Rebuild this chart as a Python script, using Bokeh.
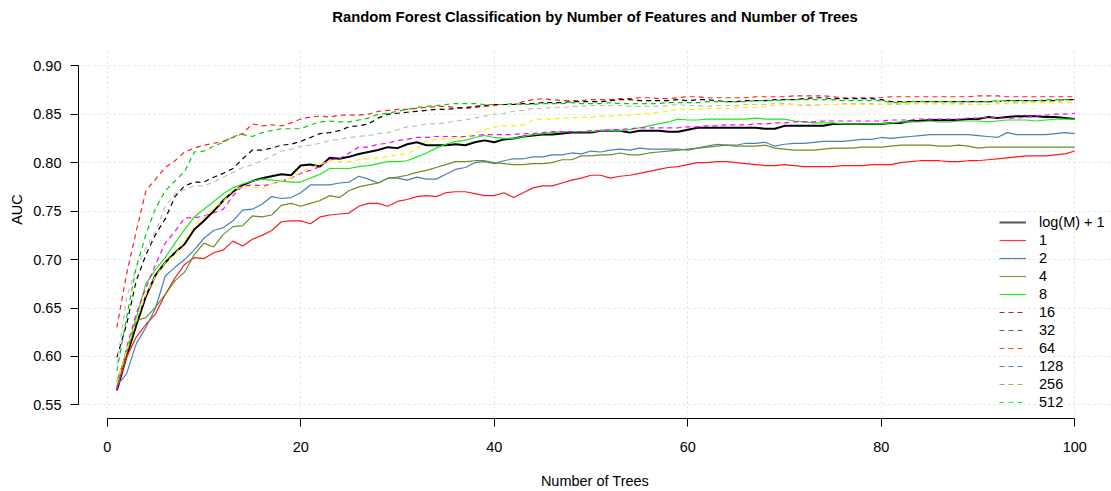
from bokeh.plotting import figure
from bokeh.models import Range1d, FixedTicker, PrintfTickFormatter, Legend, LegendItem, ColumnDataSource, Label
from bokeh.embed import file_html
from bokeh.resources import INLINE

trees = list(range(1, 101))

auc_log = [0.565,0.600,0.632,0.662,0.684,0.697,0.707,0.716,0.731,0.740,0.750,0.761,0.770,0.777,0.781,0.784,0.786,0.788,0.787,0.797,
           0.798,0.796,0.805,0.804,0.806,0.809,0.811,0.813,0.816,0.815,0.819,0.821,0.818,0.818,0.818,0.819,0.818,0.821,0.823,0.821,
           0.824,0.825,0.827,0.828,0.829,0.829,0.830,0.831,0.831,0.831,0.833,0.833,0.833,0.831,0.833,0.833,0.833,0.832,0.832,0.834,
           0.836,0.836,0.836,0.836,0.836,0.836,0.836,0.835,0.835,0.838,0.838,0.838,0.838,0.838,0.840,0.840,0.840,0.840,0.840,0.840,
           0.841,0.841,0.843,0.843,0.844,0.844,0.844,0.844,0.845,0.845,0.847,0.846,0.847,0.848,0.848,0.848,0.847,0.847,0.846,0.845]
auc_1 = [0.568,0.599,0.620,0.633,0.644,0.664,0.681,0.695,0.702,0.701,0.707,0.710,0.719,0.714,0.721,0.725,0.730,0.739,0.740,0.740,
         0.737,0.744,0.746,0.747,0.748,0.755,0.758,0.758,0.755,0.760,0.762,0.765,0.766,0.765,0.769,0.770,0.770,0.768,0.766,0.766,
         0.769,0.764,0.769,0.774,0.776,0.776,0.779,0.782,0.784,0.787,0.787,0.784,0.786,0.787,0.789,0.791,0.793,0.795,0.796,0.798,
         0.800,0.800,0.801,0.801,0.800,0.799,0.798,0.797,0.797,0.798,0.797,0.796,0.796,0.796,0.796,0.797,0.797,0.797,0.798,0.798,
         0.798,0.800,0.801,0.802,0.802,0.802,0.801,0.801,0.802,0.802,0.803,0.804,0.805,0.806,0.807,0.807,0.807,0.808,0.809,0.812]
auc_2 = [0.570,0.582,0.613,0.630,0.650,0.683,0.692,0.700,0.710,0.722,0.730,0.733,0.740,0.751,0.752,0.757,0.765,0.763,0.764,0.769,
         0.777,0.777,0.777,0.779,0.780,0.786,0.783,0.779,0.784,0.784,0.782,0.785,0.783,0.783,0.788,0.793,0.795,0.800,0.801,0.799,
         0.802,0.804,0.804,0.806,0.806,0.808,0.808,0.810,0.809,0.812,0.811,0.813,0.814,0.813,0.815,0.814,0.814,0.814,0.814,0.813,
         0.815,0.817,0.819,0.818,0.818,0.820,0.820,0.821,0.817,0.819,0.820,0.820,0.821,0.822,0.822,0.822,0.823,0.824,0.824,0.826,
         0.825,0.826,0.827,0.828,0.829,0.829,0.829,0.829,0.829,0.828,0.827,0.826,0.831,0.829,0.829,0.829,0.829,0.830,0.831,0.830]
auc_4 = [0.575,0.603,0.637,0.640,0.651,0.664,0.678,0.687,0.705,0.717,0.713,0.726,0.734,0.735,0.745,0.744,0.746,0.756,0.758,0.755,
         0.758,0.761,0.766,0.764,0.771,0.775,0.777,0.779,0.784,0.785,0.787,0.790,0.792,0.795,0.798,0.801,0.801,0.802,0.802,0.800,
         0.799,0.798,0.798,0.799,0.799,0.800,0.803,0.803,0.807,0.807,0.808,0.808,0.810,0.808,0.808,0.810,0.811,0.812,0.813,0.814,
         0.815,0.816,0.817,0.818,0.817,0.817,0.817,0.818,0.815,0.814,0.813,0.813,0.813,0.814,0.815,0.815,0.815,0.816,0.816,0.816,
         0.817,0.818,0.818,0.818,0.818,0.817,0.817,0.818,0.817,0.815,0.816,0.816,0.816,0.816,0.816,0.816,0.816,0.816,0.816,0.816]
auc_8 = [0.572,0.606,0.640,0.675,0.690,0.702,0.717,0.731,0.744,0.752,0.760,0.768,0.774,0.778,0.781,0.783,0.782,0.781,0.780,0.780,
         0.784,0.788,0.794,0.794,0.794,0.796,0.797,0.799,0.801,0.801,0.802,0.806,0.810,0.815,0.819,0.822,0.823,0.826,0.828,0.826,
         0.825,0.825,0.827,0.829,0.830,0.831,0.832,0.832,0.832,0.832,0.833,0.833,0.833,0.834,0.836,0.838,0.840,0.842,0.845,0.844,
         0.844,0.845,0.845,0.845,0.845,0.845,0.846,0.845,0.845,0.845,0.843,0.842,0.841,0.841,0.841,0.840,0.840,0.840,0.840,0.840,
         0.841,0.842,0.842,0.842,0.843,0.842,0.842,0.843,0.843,0.843,0.842,0.843,0.844,0.844,0.844,0.843,0.844,0.845,0.845,0.845]
auc_16 = [0.630,0.685,0.729,0.771,0.783,0.795,0.802,0.811,0.815,0.818,0.820,0.822,0.826,0.830,0.840,0.838,0.839,0.838,0.841,0.845,
          0.847,0.848,0.847,0.849,0.849,0.849,0.850,0.853,0.854,0.855,0.855,0.856,0.857,0.858,0.858,0.857,0.856,0.857,0.858,0.859,
          0.860,0.860,0.863,0.865,0.866,0.865,0.864,0.864,0.864,0.865,0.865,0.865,0.866,0.866,0.867,0.867,0.866,0.866,0.867,0.868,
          0.868,0.867,0.867,0.867,0.867,0.867,0.868,0.868,0.868,0.868,0.869,0.869,0.869,0.869,0.868,0.867,0.867,0.867,0.867,0.867,
          0.868,0.868,0.868,0.868,0.868,0.868,0.868,0.868,0.868,0.869,0.869,0.869,0.868,0.868,0.868,0.868,0.868,0.868,0.868,0.868]
auc_32 = [0.599,0.633,0.678,0.705,0.726,0.742,0.765,0.776,0.780,0.780,0.785,0.789,0.794,0.804,0.813,0.813,0.815,0.818,0.819,0.822,
          0.826,0.830,0.831,0.833,0.837,0.838,0.840,0.846,0.850,0.851,0.852,0.853,0.854,0.855,0.855,0.856,0.857,0.858,0.859,0.860,
          0.860,0.860,0.861,0.861,0.862,0.862,0.862,0.863,0.863,0.863,0.863,0.864,0.865,0.865,0.864,0.864,0.864,0.864,0.865,0.864,
          0.865,0.865,0.864,0.863,0.863,0.864,0.864,0.864,0.865,0.865,0.865,0.866,0.867,0.867,0.866,0.866,0.866,0.866,0.866,0.865,
          0.863,0.863,0.863,0.863,0.863,0.863,0.863,0.863,0.863,0.863,0.863,0.863,0.864,0.864,0.864,0.864,0.864,0.864,0.865,0.865]
auc_64 = [0.565,0.609,0.644,0.671,0.695,0.717,0.729,0.743,0.743,0.745,0.748,0.752,0.766,0.776,0.777,0.776,0.778,0.781,0.784,0.789,
          0.792,0.796,0.803,0.804,0.810,0.816,0.816,0.819,0.820,0.823,0.824,0.826,0.826,0.827,0.827,0.827,0.827,0.828,0.829,0.829,
          0.829,0.829,0.830,0.830,0.831,0.832,0.832,0.832,0.832,0.833,0.833,0.834,0.834,0.835,0.836,0.836,0.836,0.836,0.836,0.837,
          0.837,0.838,0.838,0.839,0.839,0.839,0.840,0.840,0.841,0.841,0.842,0.842,0.842,0.843,0.843,0.843,0.843,0.843,0.843,0.843,
          0.844,0.844,0.844,0.845,0.845,0.845,0.845,0.845,0.846,0.846,0.847,0.846,0.846,0.846,0.847,0.848,0.849,0.850,0.850,0.851]
auc_128 = [0.592,0.661,0.692,0.712,0.729,0.755,0.768,0.772,0.776,0.776,0.780,0.785,0.790,0.795,0.798,0.802,0.807,0.812,0.814,0.817,
           0.818,0.820,0.823,0.824,0.826,0.827,0.828,0.830,0.831,0.834,0.837,0.838,0.840,0.840,0.841,0.843,0.844,0.846,0.848,0.850,
           0.851,0.853,0.854,0.856,0.856,0.857,0.857,0.858,0.858,0.859,0.859,0.859,0.859,0.858,0.858,0.858,0.858,0.859,0.860,0.859,
           0.859,0.858,0.859,0.859,0.859,0.860,0.860,0.860,0.861,0.861,0.860,0.859,0.859,0.860,0.860,0.861,0.861,0.861,0.861,0.860,
           0.860,0.860,0.861,0.861,0.861,0.861,0.861,0.861,0.862,0.862,0.862,0.863,0.863,0.862,0.862,0.863,0.863,0.863,0.864,0.864]
auc_256 = [0.573,0.606,0.637,0.664,0.683,0.697,0.705,0.719,0.735,0.743,0.753,0.760,0.772,0.775,0.775,0.773,0.778,0.781,0.784,0.790,
           0.795,0.798,0.802,0.801,0.801,0.803,0.804,0.805,0.806,0.808,0.809,0.815,0.822,0.824,0.825,0.825,0.826,0.830,0.834,0.837,
           0.838,0.838,0.839,0.844,0.845,0.845,0.846,0.846,0.847,0.847,0.848,0.848,0.849,0.849,0.850,0.851,0.852,0.853,0.855,0.855,
           0.855,0.856,0.856,0.856,0.857,0.857,0.857,0.858,0.859,0.860,0.860,0.860,0.860,0.860,0.860,0.860,0.860,0.860,0.860,0.860,
           0.861,0.861,0.861,0.861,0.861,0.861,0.861,0.860,0.860,0.860,0.860,0.861,0.861,0.861,0.862,0.862,0.862,0.862,0.862,0.862]
auc_512 = [0.585,0.640,0.692,0.726,0.753,0.771,0.781,0.791,0.811,0.812,0.817,0.821,0.827,0.829,0.827,0.831,0.833,0.835,0.835,0.835,
           0.839,0.842,0.843,0.842,0.842,0.844,0.846,0.850,0.851,0.853,0.855,0.857,0.858,0.859,0.860,0.861,0.861,0.861,0.860,0.860,
           0.860,0.861,0.860,0.860,0.861,0.861,0.861,0.862,0.861,0.861,0.861,0.862,0.861,0.861,0.861,0.861,0.861,0.862,0.862,0.862,
           0.862,0.863,0.863,0.863,0.863,0.863,0.864,0.864,0.864,0.865,0.865,0.865,0.865,0.865,0.865,0.864,0.864,0.864,0.864,0.864,
           0.862,0.862,0.863,0.863,0.863,0.863,0.863,0.863,0.863,0.863,0.863,0.864,0.864,0.864,0.864,0.864,0.865,0.865,0.865,0.865]

series_labels = ["log(M) + 1", "1", "2", "4", "8", "16", "32", "64", "128", "256", "512"]
series_values = [auc_log, auc_1, auc_2, auc_4, auc_8, auc_16, auc_32, auc_64, auc_128, auc_256, auc_512]
line_colors = ["#000000", "#FF1A1A", "#4682B4", "#6B8E23", "#1EE81E",
               "#FF2020", "#000000", "#FF00FF", "#BEBEBE", "#FFEE00", "#00CC00"]
line_dashes = ["solid"] * 5 + ["5 4"] * 6
line_widths = [2.0, 1.2, 1.2, 1.2, 1.2, 1.2, 1.2, 1.2, 1.2, 1.2, 1.2]
legend_colors = ["#555555", "#FF3333", "#4682B4", "#7BA04A", "#22EE22",
                 "#B22222", "#606060", "#FF4444", "#4682B4", "#8DB563", "#22EE22"]
x_ticks = [0, 20, 40, 60, 80, 100]
y_ticks = [0.55, 0.60, 0.65, 0.70, 0.75, 0.80, 0.85, 0.90]
title_text = "Random Forest Classification by Number of Features and Number of Trees"

FONT = "Liberation Sans"

# The frame spans the whole canvas height above the x axis so the title (a Label) is not clipped.
Y0 = 0.536
Y_PLOT_TOP = 0.9148
p = figure(width=1111, height=491, output_backend="svg", toolbar_location=None,
           x_range=Range1d(-2.966, 103.79), y_range=Range1d(Y0, Y0 + 419 / 971.4),
           min_border_left=78, min_border_right=0, min_border_top=0, min_border_bottom=72)
p.outline_line_color = None
p.background_fill_color = "white"
p.border_fill_color = "white"

p.add_layout(Label(x=516.5, y=402, x_units="screen", y_units="screen", text=title_text,
                   text_align="center", text_baseline="alphabetic", text_font=FONT,
                   text_font_size="14.8px", text_font_style="bold", text_color="black"))

for ax in (p.xaxis[0], p.yaxis[0]):
    ax.axis_line_color = "black"
    ax.major_tick_line_color = "black"
    ax.major_tick_in = 0
    ax.major_tick_out = 8
    ax.minor_tick_line_color = None
    ax.major_label_text_font = FONT
    ax.major_label_text_font_size = "14.5px"
    ax.major_label_text_color = "black"
    ax.axis_label_text_font = FONT
    ax.axis_label_text_font_size = "14.5px"
    ax.axis_label_text_font_style = "normal"
    ax.axis_label_text_color = "black"

p.xaxis.ticker = FixedTicker(ticks=x_ticks)
p.yaxis.ticker = FixedTicker(ticks=y_ticks)
p.yaxis.formatter = PrintfTickFormatter(format="%.2f")
p.xaxis.bounds = (0, 100)
p.yaxis.bounds = (0.55, 0.90)
p.xaxis.axis_label = "Number of Trees"
p.yaxis.axis_label = "AUC"
p.xaxis.major_label_standoff = 15
p.yaxis.major_label_standoff = 9
p.xaxis.axis_label_standoff = 18
p.yaxis.axis_label_standoff = 5

for g in (p.xgrid[0], p.ygrid[0]):
    g.grid_line_color = "#CFE6E6"
    g.grid_line_dash = "2 3"
    g.grid_line_width = 1
p.xgrid[0].cross_bounds = (Y0, Y_PLOT_TOP)

for vals, col, dash, lw in zip(series_values, line_colors, line_dashes, line_widths):
    src = ColumnDataSource(dict(x=trees, y=vals))
    p.line("x", "y", source=src, line_color=col, line_dash=dash, line_width=lw)

nan = float("nan")
items = []
for lab, col, dash, lw in zip(series_labels, legend_colors, line_dashes, line_widths):
    r = p.line(x=[nan], y=[nan], line_color=col, line_dash=dash, line_width=lw)
    items.append(LegendItem(label=lab, renderers=[r]))

legend = Legend(items=items, location=(921, 7), padding=0, margin=0,
                border_line_color=None, background_fill_alpha=0,
                glyph_width=27, glyph_height=18, label_height=18, spacing=0,
                label_standoff=13, label_text_font=FONT, label_text_font_size="14.5px",
                label_text_color="black")
p.add_layout(legend, "center")

open("out.html", "w").write(file_html(p, INLINE))
